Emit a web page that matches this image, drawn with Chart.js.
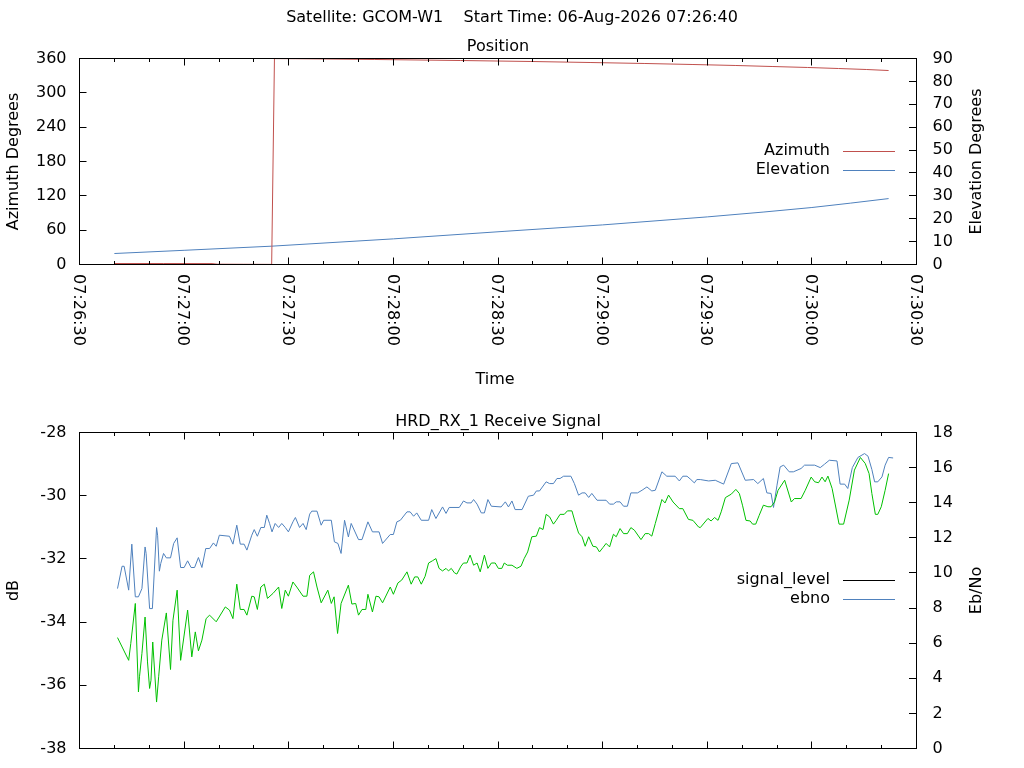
<!DOCTYPE html>
<html>
<head>
<meta charset="utf-8">
<title>GCOM-W1 pass</title>
<script src="https://cdn.jsdelivr.net/npm/chart.js@4.4.1/dist/chart.umd.min.js"></script>
<style>
    body { margin: 0; background: #ffffff; }
    canvas { display: block; }
</style>
</head>
<body>
<canvas id="position_plot" width="1024" height="400"></canvas>
<canvas id="signal_plot" width="1024" height="368"></canvas>
<script>
// header text
var satName = "GCOM-W1";
var startTime = "06-Aug-2026 07:26:40";
var axisStart = 7 * 3600 + 26 * 60 + 30;   // 07:26:30, left edge of both plots (seconds of day)

// position plot, times in seconds after 07:26:30
var azTime = [10, 24, 38, 39.5, 47, 55.1, 55.9, 62, 70, 84.5, 109.2, 129.2, 146.4, 161.9, 175.9, 188.0, 198.6, 208.7, 217.6, 225.6, 232.0];
var azDeg  = [1.7, 1.7, 1.6, 0.6, 0.4, 0.2, 359.8, 359.6, 359.2, 358.3, 356.5, 354.8, 353.0, 351.3, 349.5, 347.8, 346.0, 344.3, 342.5, 340.8, 339.0];
var elTime = [10, 30, 55, 90, 122, 150, 180, 196, 210, 221, 232];
var elDeg  = [4.8, 6.2, 8.0, 11.2, 14.5, 17.3, 20.8, 22.9, 24.9, 26.8, 28.8];

// receive signal plot
var sigTime = [10.9, 14.1, 14.7, 16.0, 16.9, 17.2, 17.9, 18.8, 19.5, 20.1, 20.5, 21.0, 22.1, 22.7, 23.6, 24.9, 26.1, 26.8, 28.0, 29.0,
    31.0, 32.2, 33.2, 34.1, 35.1, 36.3, 37.3, 39.2, 41.8, 43.0, 44.0, 45.1, 46.1, 47.2, 48.0, 49.4, 50.1, 51.0, 52.0, 53.0,
    53.9, 55.5, 57.1, 58.0, 59.0, 59.9, 61.2, 62.3, 64.1, 65.2, 66.0, 67.1, 68.1, 69.3, 71.2, 72.2, 73.0, 74.0, 75.0, 77.1,
    78.1, 79.2, 80.0, 81.0, 82.1, 82.7, 84.0, 85.0, 85.9, 86.9, 89.1, 90.0, 91.3, 92.4, 93.9, 95.1, 96.1, 97.0, 98.0, 99.1,
    100.1, 101.2, 102.2, 103.1, 104.1, 105.1, 105.8, 106.6, 107.5, 108.2, 109.4, 110.1, 111.1, 112.0, 113.0, 114.0, 114.9, 116.1, 117.1, 118.1,
    119.2, 120.1, 121.1, 121.8, 122.7, 124.0, 125.4, 126.6, 127.5, 128.5, 129.7, 131.0, 131.9, 132.9, 133.8, 134.8, 135.9, 136.7, 137.8, 139.0,
    139.9, 141.2, 142.1, 143.1, 144.1, 145.0, 146.0, 147.2, 148.2, 149.1, 150.1, 151.0, 152.0, 153.1, 153.9, 155.0, 156.0, 157.1, 158.1, 159.1,
    161.0, 162.2, 163.2, 164.1, 165.1, 167.0, 167.9, 168.9, 170.2, 172.0, 173.0, 174.6, 175.9, 177.5, 178.0, 180.2, 181.1, 182.1, 183.1, 184.0,
    185.2, 186.9, 188.2, 189.2, 190.1, 191.1, 192.3, 193.0, 193.9, 194.9, 196.1, 197.4, 198.3, 199.3, 200.3, 202.2, 204.1, 205.0, 206.9, 208.1,
    209.8, 210.8, 211.9, 212.9, 213.8, 214.6, 215.8, 217.8, 219.1, 220.7, 222.2, 223.9, 225.3, 226.4, 227.2, 228.2, 228.9, 229.9, 231.0, 232.0];
var sigLevel = [-34.49, -35.21, -34.68, -33.41, -36.21, -35.73, -34.99, -33.84, -35.26, -36.10, -35.84, -34.63, -36.53, -35.73, -34.57, -33.71, -35.50, -33.94, -32.99, -35.21,
    -33.62, -35.10, -34.31, -34.91, -34.57, -33.89, -33.78, -33.99, -33.52, -33.62, -33.89, -32.80, -33.60, -33.60, -33.78, -33.18, -33.20, -33.60, -32.89, -32.80,
    -33.25, -33.09, -32.89, -33.57, -32.99, -33.18, -32.73, -32.89, -33.18, -33.18, -32.52, -32.41, -32.89, -33.39, -32.99, -33.41, -33.20, -34.36, -33.41, -32.83,
    -33.43, -33.41, -33.78, -33.60, -33.60, -33.12, -33.68, -33.18, -33.20, -33.39, -32.89, -33.12, -32.76, -32.67, -32.41, -32.80, -32.57, -32.57, -32.80, -32.55,
    -32.13, -32.06, -31.99, -32.30, -32.38, -32.30, -32.38, -32.30, -32.44, -32.48, -32.23, -32.13, -32.13, -31.88, -32.20, -32.13, -32.41, -31.88, -32.30, -32.13,
    -32.13, -32.30, -32.30, -32.13, -32.20, -32.20, -32.30, -32.23, -31.99, -31.78, -31.30, -31.28, -31.01, -31.07, -30.59, -30.67, -30.90, -30.78, -30.59, -30.59,
    -30.48, -30.48, -30.83, -31.18, -31.30, -31.60, -31.30, -31.60, -31.62, -31.78, -31.64, -31.51, -31.62, -31.22, -31.30, -31.04, -31.20, -31.20, -31.01, -31.09,
    -31.39, -31.20, -31.20, -31.28, -30.88, -30.12, -30.23, -29.98, -30.20, -30.41, -30.41, -30.75, -30.78, -30.99, -31.01, -30.72, -30.80, -30.69, -30.78, -30.51,
    -30.06, -29.95, -29.80, -29.93, -30.30, -30.78, -30.80, -30.90, -30.90, -30.62, -30.30, -30.35, -30.35, -30.20, -29.83, -29.51, -30.20, -30.09, -30.09, -29.83,
    -29.41, -29.56, -29.59, -29.41, -29.56, -29.38, -29.77, -30.90, -30.90, -30.14, -29.19, -28.79, -28.98, -29.30, -29.93, -30.59, -30.59, -30.35, -29.83, -29.30];

var ebTime = [10.9, 12.2, 12.8, 14.1, 15.0, 16.0, 16.9, 17.9, 18.8, 19.1, 20.1, 20.9, 22.1, 22.4, 22.9, 23.3, 24.1, 24.9, 26.1, 27.0,
    28.0, 29.0, 30.0, 31.0, 32.0, 33.0, 34.1, 35.1, 36.2, 37.3, 38.4, 39.2, 40.1, 43.0, 44.0, 45.1, 46.1, 47.2, 48.0, 49.4,
    50.1, 51.0, 52.0, 53.0, 53.7, 54.5, 55.2, 56.1, 57.1, 58.0, 59.0, 59.9, 61.2, 61.9, 63.1, 64.1, 65.0, 66.0, 66.6, 68.1,
    69.3, 70.0, 72.2, 73.1, 74.1, 75.0, 76.0, 77.1, 77.9, 80.0, 81.0, 82.7, 84.0, 85.9, 86.9, 89.1, 90.0, 91.0, 92.0, 93.9,
    94.8, 95.8, 96.7, 98.0, 100.1, 101.0, 102.2, 104.1, 105.1, 106.0, 108.9, 110.1, 111.1, 112.3, 113.0, 114.0, 115.2, 116.1, 117.1, 118.1,
    120.9, 122.1, 123.0, 124.0, 124.9, 126.9, 128.7, 130.2, 131.0, 131.9, 133.8, 134.8, 135.9, 136.9, 137.8, 138.8, 140.9, 141.9, 143.1, 144.1,
    145.0, 146.0, 146.9, 148.4, 151.0, 152.0, 153.1, 153.9, 155.0, 156.0, 157.1, 158.1, 160.0, 161.3, 162.7, 164.1, 165.1, 167.0, 168.4, 170.8,
    172.0, 173.0, 174.2, 175.3, 176.3, 177.0, 178.0, 180.4, 182.3, 184.7, 186.9, 188.8, 190.9, 193.3, 194.5, 196.1, 197.1, 198.3, 199.0, 200.0,
    200.9, 201.9, 203.5, 204.7, 206.9, 207.9, 210.8, 212.4, 213.6, 215.0, 217.2, 218.1, 219.4, 220.3, 221.6, 223.2, 225.1, 226.1, 227.2, 228.0,
    228.9, 230.1, 231.0, 232.0, 233.3];
var ebno = [9.11, 10.38, 10.38, 9.02, 11.64, 8.64, 8.64, 9.11, 11.48, 11.11, 7.97, 7.97, 12.59, 12.15, 10.10, 10.54, 11.11, 10.86, 10.86, 11.68,
    12.00, 10.31, 10.31, 10.69, 10.31, 10.31, 10.88, 10.31, 11.39, 11.39, 11.71, 11.52, 12.15, 12.09, 11.64, 12.72, 11.64, 11.64, 11.30, 12.15,
    12.47, 12.09, 12.59, 12.59, 13.29, 12.82, 12.34, 12.82, 12.59, 12.82, 12.59, 12.34, 12.91, 13.16, 12.59, 12.82, 12.47, 13.35, 13.52, 13.52,
    12.72, 13.00, 13.00, 11.77, 11.68, 11.11, 13.00, 12.05, 12.82, 11.90, 11.90, 12.91, 12.34, 12.34, 11.68, 12.19, 12.19, 12.91, 13.00, 13.48,
    13.48, 13.23, 13.42, 13.00, 13.00, 13.61, 13.10, 13.76, 13.39, 13.73, 13.73, 14.10, 13.99, 13.99, 14.18, 13.92, 13.42, 13.42, 14.18, 13.80,
    13.76, 14.05, 13.76, 14.10, 13.61, 13.61, 14.37, 14.43, 14.67, 14.67, 15.19, 15.09, 15.09, 15.38, 15.38, 15.51, 15.51, 15.09, 14.43, 14.56,
    14.56, 14.30, 14.53, 14.14, 14.14, 13.92, 13.92, 14.05, 14.05, 13.80, 13.80, 14.56, 14.56, 14.71, 14.90, 14.67, 14.71, 15.76, 15.51, 15.51,
    15.24, 15.51, 15.51, 15.32, 15.13, 15.32, 15.32, 15.24, 15.28, 15.06, 16.23, 16.27, 15.28, 15.32, 15.09, 15.38, 14.56, 14.53, 13.73, 15.00,
    16.04, 16.14, 15.76, 15.76, 15.95, 16.14, 16.14, 16.00, 16.19, 16.42, 16.38, 15.06, 15.06, 14.81, 16.00, 16.58, 16.80, 16.65, 15.89, 15.19,
    15.19, 15.47, 16.14, 16.58, 16.55];

var redLine = "#c0504d";
var blueLine = "#4f81bd";
var greenLine = "#00c000";

Chart.defaults.font.family = "'DejaVu Sans', sans-serif";
Chart.defaults.font.size = 16;
Chart.defaults.color = "#000000";

function fmt_time(sec) {
    var s = axisStart + sec;
    var parts = [Math.floor(s / 3600), Math.floor((s % 3600) / 60), s % 60];
    return parts.map(function (v) { return String(v).padStart(2, "0"); }).join(":");
}

function to_points(times, values) {
    var data = [];
    for (let i = 0; i < times.length; i++) {
        data.push({ x: times[i], y: values[i] });
    }
    return data;
}

// gnuplot style frame: border, inward ticks, rotated time labels, axis labels and key
var gnuplotFrame = {
    id: "gnuplotFrame",
    afterDatasetsDraw: function (chart, args, opts) {
        var ctx = chart.ctx;
        var a = chart.chartArea;
        var xs = chart.scales.x;
        var yl = chart.scales.y;
        var yr = chart.scales.y1;
        ctx.save();
        ctx.strokeStyle = "#000000";
        ctx.fillStyle = "#000000";
        ctx.lineWidth = 1;
        ctx.strokeRect(a.left, a.top, a.right - a.left, a.bottom - a.top);

        ctx.beginPath();
        xs.ticks.forEach(function (t) {
            var px = Math.round(xs.getPixelForValue(t.value) - 0.5) + 0.5;
            var len = t.value % 30 == 0 ? 7 : 3.5;
            ctx.moveTo(px, a.bottom);
            ctx.lineTo(px, a.bottom - len);
            ctx.moveTo(px, a.top);
            ctx.lineTo(px, a.top + len);
        });
        yl.ticks.forEach(function (t) {
            var py = Math.round(yl.getPixelForValue(t.value) - 0.5) + 0.5;
            ctx.moveTo(a.left, py);
            ctx.lineTo(a.left + 7, py);
        });
        yr.ticks.forEach(function (t) {
            var py = Math.round(yr.getPixelForValue(t.value) - 0.5) + 0.5;
            ctx.moveTo(a.right, py);
            ctx.lineTo(a.right - 7.5, py);
        });
        ctx.stroke();

        ctx.font = "16px 'DejaVu Sans'";
        if (opts.xLabels) {
            xs.ticks.forEach(function (t) {
                if (t.value % 30 != 0) return;
                ctx.save();
                ctx.translate(xs.getPixelForValue(t.value), a.bottom + 9.5);
                ctx.rotate(Math.PI / 2);
                ctx.textAlign = "left";
                ctx.textBaseline = "alphabetic";
                ctx.fillText(fmt_time(t.value), 0, 5.8);
                ctx.restore();
            });
        }

        var midY = (a.top + a.bottom) / 2;
        [[opts.leftTitle, 13.5], [opts.rightTitle, a.right + 60.5]].forEach(function (item) {
            ctx.save();
            ctx.translate(item[1], midY);
            ctx.rotate(-Math.PI / 2);
            ctx.textAlign = "center";
            ctx.textBaseline = "middle";
            ctx.fillText(item[0], 0, 0);
            ctx.restore();
        });
        if (opts.xTitle) {
            ctx.textAlign = "center";
            ctx.textBaseline = "middle";
            ctx.fillText(opts.xTitle, (a.left + a.right) / 2 - 3, a.bottom + 115.2);
        }

        // key
        chart.data.datasets.forEach(function (ds, i) {
            var y = opts.keyY + i * 19.6;
            var ly = Math.floor(y) + 0.5;
            ctx.textAlign = "right";
            ctx.textBaseline = "middle";
            ctx.fillStyle = "#000000";
            ctx.fillText(ds.label, a.right - 86.5, y - 0.5);
            ctx.strokeStyle = ds.keyColor;
            ctx.beginPath();
            ctx.moveTo(a.right - 73.5, ly);
            ctx.lineTo(a.right - 21.5, ly);
            ctx.stroke();
        });
        ctx.restore();
    }
};

function time_axis(height) {
    return {
        type: "linear",
        position: "bottom",
        min: 0,
        max: 240,
        ticks: { display: false, stepSize: 10 },
        grid: { display: false },
        border: { display: false },
        afterFit: function (scale) { scale.height = height; }
    };
}

function value_axis(side, min, max, step, width, pad) {
    return {
        type: "linear",
        position: side,
        min: min,
        max: max,
        ticks: { stepSize: step, autoSkip: false, padding: pad, color: "#000000" },
        grid: { display: false, drawTicks: false },
        border: { display: false },
        afterFit: function (scale) {
            scale.width = width;
            // labels may hang over the plot ends, as in gnuplot
            scale.paddingTop = 0;
            scale.paddingBottom = 0;
        }
    };
}

function line_set(label, data, color, keyColor, axis) {
    return {
        label: label,
        data: data,
        yAxisID: axis,
        borderColor: color,
        backgroundColor: color,
        keyColor: keyColor,
        borderWidth: 1,
        pointRadius: 0,
        fill: false,
        tension: 0
    };
}

function init_position_plot(container_name) {
    var ctx = document.getElementById(container_name).getContext("2d");
    const config = {
        type: "line",
        data: {
            datasets: [
                line_set("Azimuth", to_points(azTime, azDeg), redLine, redLine, "y"),
                line_set("Elevation", to_points(elTime, elDeg), blueLine, blueLine, "y1")
            ]
        },
        options: {
            responsive: false,
            animation: false,
            layout: { padding: 0 },
            scales: {
                x: time_axis(135.5),
                y: value_axis("left", 0, 360, 60, 79.5, 13),
                y1: value_axis("right", 0, 90, 10, 107.5, 16)
            },
            plugins: {
                legend: { display: false },
                tooltip: { enabled: false },
                title: {
                    display: true,
                    text: "Satellite: " + satName + "    Start Time: " + startTime,
                    font: { size: 16, weight: "normal" },
                    color: "#000000",
                    padding: { top: 8.4, bottom: 0 }
                },
                subtitle: {
                    display: true,
                    text: "Position",
                    fullSize: false,
                    font: { size: 16, weight: "normal" },
                    color: "#000000",
                    padding: { top: 10, bottom: 1.7 }
                },
                gnuplotFrame: {
                    xLabels: true,
                    xTitle: "Time",
                    leftTitle: "Azimuth Degrees",
                    rightTitle: "Elevation Degrees",
                    keyY: 151.2
                }
            }
        },
        plugins: [gnuplotFrame]
    };
    return new Chart(ctx, config);
}

function init_signal_plot(container_name) {
    var ctx = document.getElementById(container_name).getContext("2d");
    const config = {
        type: "line",
        data: {
            datasets: [
                line_set("signal_level", to_points(sigTime, sigLevel), greenLine, "#000000", "y"),
                line_set("ebno", to_points(ebTime, ebno), blueLine, blueLine, "y1")
            ]
        },
        options: {
            responsive: false,
            animation: false,
            layout: { padding: 0 },
            scales: {
                x: time_axis(19.5),
                y: value_axis("left", -38, -28, 2, 79.5, 13),
                y1: value_axis("right", 0, 18, 2, 107.5, 16)
            },
            plugins: {
                legend: { display: false },
                tooltip: { enabled: false },
                title: {
                    display: true,
                    text: "HRD_RX_1 Receive Signal",
                    fullSize: false,
                    font: { size: 16, weight: "normal" },
                    color: "#000000",
                    padding: { top: 12.6, bottom: 0.7 }
                },
                gnuplotFrame: {
                    xLabels: false,
                    xTitle: null,
                    leftTitle: "dB",
                    rightTitle: "Eb/No",
                    keyY: 180.2
                }
            }
        },
        plugins: [gnuplotFrame]
    };
    return new Chart(ctx, config);
}

var position_plot = init_position_plot("position_plot");
var signal_plot = init_signal_plot("signal_plot");
</script>
</body>
</html>
